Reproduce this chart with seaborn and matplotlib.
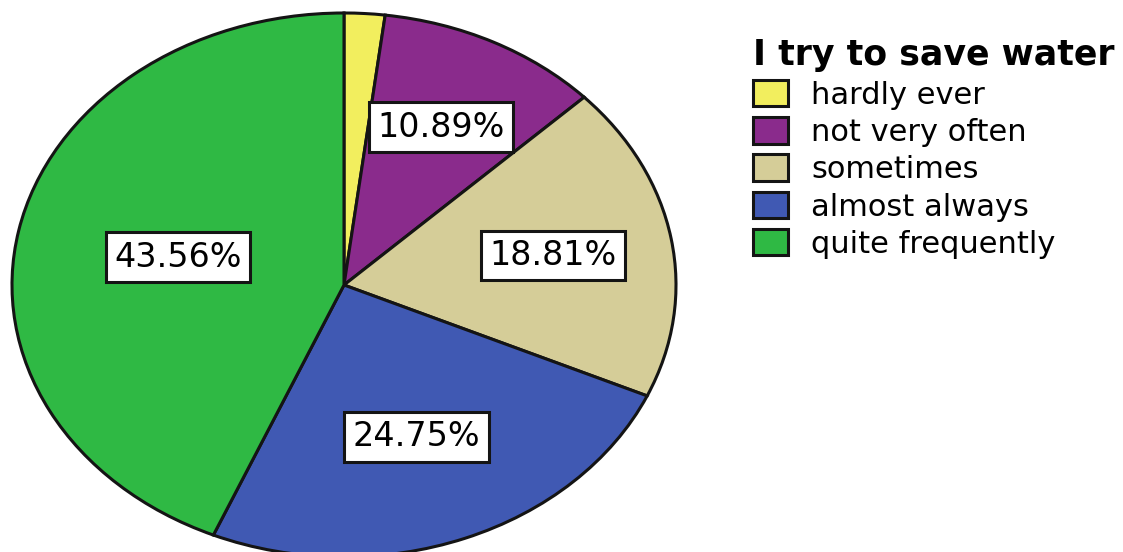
import matplotlib
matplotlib.use("Agg")
import numpy as np
import matplotlib.pyplot as plt
import seaborn as sns

# Survey responses: "I try to save water"
categories = ["hardly ever", "not very often", "sometimes", "almost always", "quite frequently"]
percentages = [1.98, 10.89, 18.81, 24.75, 43.56]
slice_colors = ["#F2EE5E", "#8A2B8C", "#D5CD98", "#4059B3", "#2FB944"]
legend_title = "I try to save water"

# radial placement of each percentage box (fraction of the radius)
label_radius = [0.6, 0.65, 0.64, 0.6, 0.51]

sns.set_theme(style="white")
plt.rcParams["font.family"] = ["DejaVu Sans"]
plt.rcParams["text.color"] = "black"

fig = plt.figure(figsize=(11.23, 5.52), dpi=100)
fig.patch.set_facecolor("white")

# Axes stretched wider than tall so the pie renders as an ellipse
ax = fig.add_axes([12 / 1123, -5 / 552, 664 / 1123, 544 / 552])

palette = sns.color_palette(slice_colors)
wedges, texts, autotexts = ax.pie(
    percentages,
    colors=palette,
    startangle=90,
    counterclock=False,
    autopct=lambda p: f"{p:.2f}%" if p >= 5 else "",
    pctdistance=0.6,
    wedgeprops=dict(edgecolor="#141414", linewidth=2.2),
    textprops=dict(fontsize=24, color="black"),
)
for w, t, r in zip(wedges, autotexts, label_radius):
    if not t.get_text():
        continue
    mid = np.deg2rad((w.theta1 + w.theta2) / 2)
    t.set_position((r * np.cos(mid), r * np.sin(mid)))
    t.set_bbox(dict(boxstyle="square,pad=0.25", facecolor="white",
                    edgecolor="#141414", linewidth=2.2))

ax.set_aspect("auto")
ax.set_xlim(-1.0, 1.0)
ax.set_ylim(-1.0, 1.0)
ax.axis("off")

leg = fig.legend(
    wedges, categories,
    title=legend_title,
    loc="upper left",
    bbox_to_anchor=(741 / 1123, 1 - 26 / 552),
    frameon=False,
    fontsize=22,
    title_fontproperties=dict(weight="bold", size=25),
    alignment="left",
    handlelength=1.15,
    handleheight=0.95,
    handletextpad=0.75,
    labelspacing=0.25,
    borderaxespad=0,
)
leg.get_title().set_color("black")
for txt in leg.get_texts():
    txt.set_color("black")
for h in leg.legend_handles:
    h.set_edgecolor("#141414")
    h.set_linewidth(2.2)

fig.savefig("out.png", dpi=100, facecolor="white")
